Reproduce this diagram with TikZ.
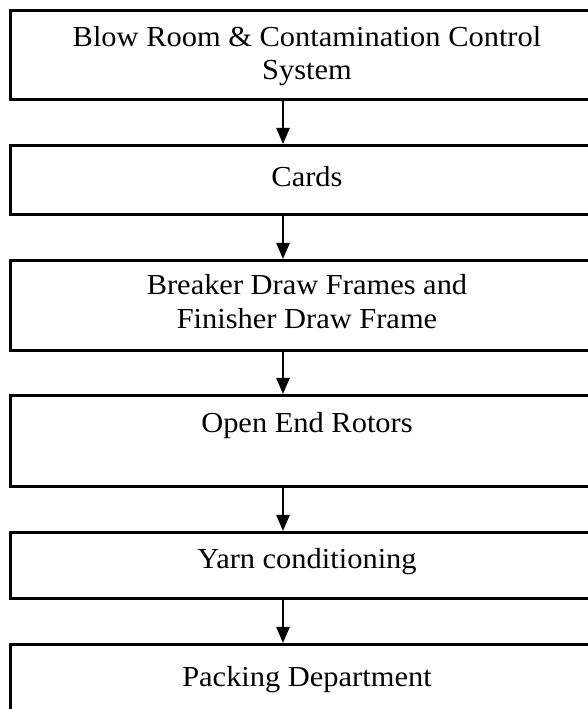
\documentclass[tikz,border=0pt]{standalone}
\usepackage{fontspec}
\setmainfont[FakeStretch=1.05]{Liberation Serif}
\usetikzlibrary{arrows.meta}

\begin{document}
\begin{tikzpicture}[x=1pt,y=1pt,
  stagebox/.style={draw=black, line width=2.6pt, fill=white, rectangle,
    minimum width=600pt, inner sep=0pt, anchor=north west},
  stagetext/.style={anchor=base, inner sep=0pt,
    font=\fontsize{29}{34}\selectfont},
  flow/.style={line width=2.4pt, -{Triangle[width=13pt,length=16pt]}}
]
% page frame: 588 x 709, y measured upward from the bottom edge
\useasboundingbox (0,0) rectangle (588,709);
\clip (0,0) rectangle (588,709);

% process stages (left edge at x=9, boxes run past the right margin)
\node[stagebox, minimum height=89pt] (b1) at (9,700) {};
\node[stagebox, minimum height=69pt] (b2) at (9,565) {};
\node[stagebox, minimum height=90pt] (b3) at (9,450) {};
\node[stagebox, minimum height=91pt] (b4) at (9,315) {};
\node[stagebox, minimum height=66pt] (b5) at (9,178) {};
\node[stagebox, minimum height=100pt] (b6) at (9,66) {};

% stage labels, centred on x = 307
\node[stagetext] (t1a) at (307,662) {Blow Room \& Contamination Control};
\node[stagetext] (t1b) at (307,629) {System};
\node[stagetext] (t2)  at (307,522) {Cards};
\node[stagetext] (t3a) at (307,414) {Breaker Draw Frames and};
\node[stagetext] (t3b) at (307,380) {Finisher Draw Frame};
\node[stagetext] (t4)  at (307,276) {Open End Rotors};
\node[stagetext] (t5)  at (307,140) {Yarn conditioning};
\node[stagetext] (t6)  at (307,23)  {Packing Department};

% vertical flow line
\coordinate (ax) at (283,0);
\draw[flow] (b1.south -| ax) -- (b2.north -| ax);
\draw[flow] (b2.south -| ax) -- (b3.north -| ax);
\draw[flow] (b3.south -| ax) -- (b4.north -| ax);
\draw[flow] (b4.south -| ax) -- (b5.north -| ax);
\draw[flow] (b5.south -| ax) -- (b6.north -| ax);
\end{tikzpicture}
\end{document}
